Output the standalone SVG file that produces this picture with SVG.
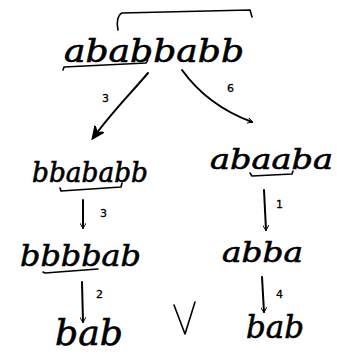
<svg xmlns="http://www.w3.org/2000/svg" width="337" height="354" viewBox="0 0 337 354">
  <defs>
    <marker id="head" viewBox="0 0 10 10" refX="8" refY="5" markerWidth="6" markerHeight="6" orient="auto-start-reverse" markerUnits="userSpaceOnUse">
      <path d="M0,0 L9,5 L0,10" fill="none" stroke="#000" stroke-width="1.6"/>
    </marker>
    <marker id="headBig" viewBox="0 0 10 10" refX="8" refY="5" markerWidth="14" markerHeight="14" orient="auto" markerUnits="userSpaceOnUse">
      <path d="M0,1 L9,5 L0,9 L3,5 Z" fill="#000" stroke="#000" stroke-width="1"/>
    </marker>
  </defs>
  <style>
    .word { font-family: "DejaVu Serif", "Liberation Serif", serif; font-style: italic; fill: #000; stroke: #000; stroke-width: 0.6; }
    .num { font-family: "DejaVu Sans", "Liberation Sans", sans-serif; font-size: 11px; fill: #000; stroke: #000; stroke-width: 0.3; }
    .line { fill: none; stroke: #000; stroke-width: 1.6; stroke-linecap: round; stroke-linejoin: round; }
    .arrow { fill: none; stroke: #000; stroke-width: 2; stroke-linecap: round; }
  </style>
  <rect width="337" height="354" fill="#fff"/>

  <!-- rewriting steps -->
  <g id="connectors">
    <path class="arrow" d="M148,73 C132,92 112,112 93,138" stroke-width="3.5" marker-end="url(#headBig)"/>
    <path class="arrow" d="M182,70 C200,95 225,112 252,122" stroke-width="1.3" marker-end="url(#head)"/>
    <path class="arrow" d="M83,200 L83,228" marker-end="url(#head)"/>
    <path class="arrow" d="M264,190 L266,230" marker-end="url(#head)"/>
    <path class="arrow" d="M82,282 L83,322" marker-end="url(#head)"/>
    <path class="arrow" d="M262,277 L264,312" marker-end="url(#head)"/>
    <text class="num" x="102" y="102">3</text>
    <text class="num" x="227" y="92">6</text>
    <text class="num" x="100" y="217">3</text>
    <text class="num" x="276" y="208">1</text>
    <text class="num" x="96" y="298">2</text>
    <text class="num" x="276" y="298">4</text>
  </g>

  <g id="root">
    <text class="word" x="64" y="62" font-size="31" textLength="180" lengthAdjust="spacingAndGlyphs">ababbabb</text>
    <path class="line" d="M118,30 C116,22 118,15 122,13 L250,10 L252,17"/>
    <path class="line" d="M63,70 L64,67 L146,63 C148,61 148,58 148,57"/>
  </g>

  <g id="left1">
    <text class="word" x="32" y="182" font-size="27" textLength="116" lengthAdjust="spacingAndGlyphs">bbababb</text>
    <path class="line" d="M60,188 L61,191 L121,187 L122,183"/>
  </g>

  <g id="right1">
    <text class="word" x="210" y="169" font-size="28" textLength="123" lengthAdjust="spacingAndGlyphs">abaaba</text>
    <path class="line" d="M250,173 L252,176 L292,174 L293,171"/>
  </g>

  <g id="left2">
    <text class="word" x="20" y="266" font-size="30" textLength="121" lengthAdjust="spacingAndGlyphs">bbbbab</text>
    <path class="line" d="M43,272 L45,273 L98,269"/>
  </g>

  <g id="right2">
    <text class="word" x="222" y="262" font-size="28" textLength="81" lengthAdjust="spacingAndGlyphs">abba</text>
  </g>

  <g id="left3">
    <text class="word" x="55" y="345" font-size="36" textLength="68" lengthAdjust="spacingAndGlyphs">bab</text>
  </g>

  <g id="right3">
    <text class="word" x="246" y="338" font-size="32" textLength="58" lengthAdjust="spacingAndGlyphs">bab</text>
  </g>

  <g id="join">
    <path class="line" d="M174,305 L185,334 L195,302" stroke-width="1.8"/>
  </g>
</svg>
